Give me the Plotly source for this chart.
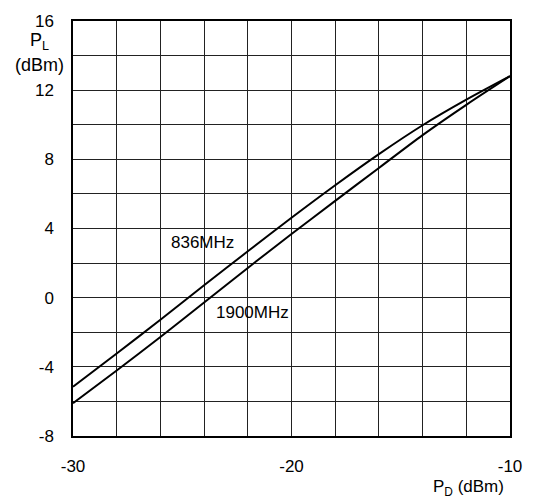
import plotly.graph_objects as go

pd_dbm = [-30, -28, -26, -24, -22, -20, -18, -16, -14, -12, -10]
pl_836 = [-5.15, -3.23, -1.28, 0.72, 2.68, 4.62, 6.5, 8.3, 9.97, 11.45, 12.81]
pl_1900 = [-6.1, -4.21, -2.27, -0.28, 1.72, 3.68, 5.6, 7.5, 9.4, 11.15, 12.81]

x_labels = [-30, -20, -10]
y_labels = [-8, -4, 0, 4, 8, 12, 16]

FONT = "Liberation Sans, Arial, Helvetica, sans-serif"

fig = go.Figure()
fig.add_trace(go.Scatter(x=pd_dbm, y=pl_836, mode="lines", name="836MHz",
                         line=dict(color="black", width=2, shape="spline", smoothing=0.8)))
fig.add_trace(go.Scatter(x=pd_dbm, y=pl_1900, mode="lines", name="1900MHz",
                         line=dict(color="black", width=2, shape="spline", smoothing=0.8)))

grid = dict(showgrid=True, gridcolor="#222", gridwidth=1)

fig.update_layout(
    width=534, height=501,
    margin=dict(l=73, r=23, t=13, b=65),
    paper_bgcolor="white", plot_bgcolor="white",
    showlegend=False,
    font=dict(family=FONT, size=17, color="black"),
    xaxis=dict(range=[-30, -10], tickvals=x_labels,
               ticktext=[str(v) for v in x_labels], **grid,
               minor=dict(tick0=-30, dtick=2, ticks="", **grid),
               showline=True, linecolor="black", linewidth=1.5, mirror=True,
               ticks="", ticklabelstandoff=14, zeroline=False),
    yaxis=dict(range=[-8, 16], tickvals=y_labels,
               ticktext=[str(v) for v in y_labels], **grid,
               minor=dict(tick0=-8, dtick=2, ticks="", **grid),
               showline=True, linecolor="black", linewidth=1.5, mirror=True,
               ticks="", ticklabelstandoff=14, zeroline=False),
    annotations=[
        dict(text="836MHz", x=-25.6, y=3.2, xref="x", yref="y",
             xanchor="left", yanchor="middle", showarrow=False),
        dict(text="1900MHz", x=-23.56, y=-0.87, xref="x", yref="y",
             xanchor="left", yanchor="middle", showarrow=False),
        dict(text="P<sub>L</sub>", x=-0.0776, y=0.95, xref="paper", yref="paper",
             xanchor="center", yanchor="middle", showarrow=False,
             font=dict(size=18)),
        dict(text="(dBm)", x=-0.0776, y=0.894, xref="paper", yref="paper",
             xanchor="center", yanchor="middle", showarrow=False,
             font=dict(size=18)),
        dict(text="P<sub>D</sub> (dBm)", x=0.991, y=-0.125, xref="paper", yref="paper",
             xanchor="right", yanchor="middle", showarrow=False),
    ],
)

fig.write_html("out.html")
